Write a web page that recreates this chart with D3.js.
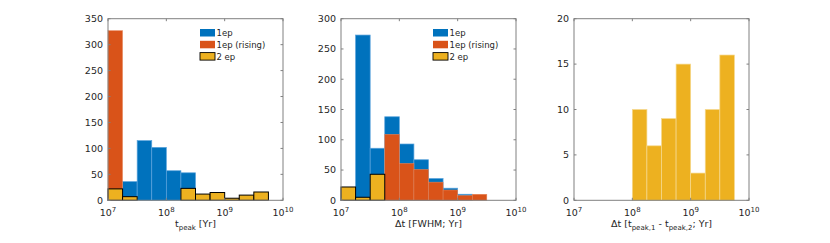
<!DOCTYPE html>
<html>
<head>
<meta charset="utf-8">
<script src="https://cdn.jsdelivr.net/npm/d3@7"></script>
<style>
body { margin: 0; background: #fff; }
text { font-family: "DejaVu Sans", sans-serif; fill: #262626; }
</style>
</head>
<body>
<svg width="830" height="243"></svg>
<script>
// log10 bin edges shared by all panels
const bin_edges = [7, 7.25, 7.5, 7.75, 8, 8.25, 8.5, 8.75, 9, 9.25, 9.5, 9.75, 10]
const x_ticks = [7, 8, 9, 10]

// panel 1: t_peak
const p1_one_ep = [0, 36, 115, 102, 57, 53, 0, 0, 0, 0, 0, 0]
const p1_rising = [327, 0, 0, 0, 0, 0, 0, 0, 0, 0, 0, 0]
const p1_two_ep = [22, 7, 0, 0, 0, 23, 12, 15, 4, 10, 16, 0]
const p1_y_ticks = [0, 50, 100, 150, 200, 250, 300, 350]

// panel 2: FWHM
const p2_one_ep = [0, 273, 86, 138, 93, 67, 36, 20, 10, 0, 0, 0]
const p2_rising = [0, 0, 0, 109, 61, 51, 30, 17, 8, 10, 0, 0]
const p2_two_ep = [22, 5, 43, 0, 0, 0, 0, 0, 0, 0, 0, 0]
const p2_y_ticks = [0, 50, 100, 150, 200, 250, 300]

// panel 3: peak separation
const p3_two_ep = [0, 0, 0, 0, 10, 6, 9, 15, 3, 10, 16, 0]
const p3_y_ticks = [0, 5, 10, 15, 20]

const legend_labels = ["1ep", "1ep (rising)", "2 ep"]

const col_blue = "#0072BD"
const col_orange = "#D95319"
const col_yellow = "#EDB120"
const axis_col = "#808080"

const plot_top = 18.7
const plot_bottom = 200.3
const plot_w = 175
const tick_len = 2.5

const svg = d3.select("svg")

function draw_panel(left, y_max, y_ticks, series, legend_x, label_parts) {
    const g = svg.append("g")
    const x = d3.scaleLinear().domain([7, 10]).range([left, left + plot_w])
    const y = d3.scaleLinear().domain([0, y_max]).range([plot_bottom, plot_top])

    series.forEach(s => {
        const bins = s.counts.map((c, i) => ({ x0: bin_edges[i], x1: bin_edges[i + 1], c: c }))
            .filter(b => b.c > 0)
        g.selectAll(null)
            .data(bins)
            .enter()
            .append("rect")
            .attr("x", b => x(b.x0))
            .attr("y", b => y(b.c))
            .attr("width", b => x(b.x1) - x(b.x0))
            .attr("height", b => y(0) - y(b.c))
            .attr("fill", s.color)
            .attr("stroke", s.edge)
            .attr("stroke-width", s.edge_w)
    })

    // box
    g.append("rect")
        .attr("x", left).attr("y", plot_top)
        .attr("width", plot_w).attr("height", plot_bottom - plot_top)
        .attr("fill", "none").attr("stroke", axis_col).attr("stroke-width", 1)

    // x ticks (bottom and top, inward)
    x_ticks.forEach(t => {
        g.append("line").attr("x1", x(t)).attr("x2", x(t))
            .attr("y1", plot_bottom).attr("y2", plot_bottom - tick_len)
            .attr("stroke", axis_col)
        g.append("line").attr("x1", x(t)).attr("x2", x(t))
            .attr("y1", plot_top).attr("y2", plot_top + tick_len)
            .attr("stroke", axis_col)
        const lab = g.append("text")
            .attr("x", x(t)).attr("y", 215.5)
            .attr("text-anchor", "middle")
            .attr("font-size", 9.5)
        lab.append("tspan").text("10")
        lab.append("tspan").attr("dy", -4).attr("font-size", 7).text(t)
    })

    // y ticks (left and right, inward)
    y_ticks.forEach(t => {
        g.append("line").attr("x1", left).attr("x2", left + tick_len)
            .attr("y1", y(t)).attr("y2", y(t)).attr("stroke", axis_col)
        g.append("line").attr("x1", left + plot_w).attr("x2", left + plot_w - tick_len)
            .attr("y1", y(t)).attr("y2", y(t)).attr("stroke", axis_col)
        g.append("text")
            .attr("x", left - 5).attr("y", y(t) + 3.3)
            .attr("text-anchor", "end")
            .attr("font-size", 9.5)
            .text(t)
    })

    // x label
    const xl = g.append("text")
        .attr("x", left + plot_w / 2).attr("y", 226.5)
        .attr("text-anchor", "middle")
        .attr("font-size", 9.5)
    label_parts.forEach(p => {
        const sp = xl.append("tspan").text(p.t)
        if (p.sub) sp.attr("font-size", 7).attr("dy", 3)
        if (p.back) sp.attr("dy", -3)
    })

    // legend
    if (legend_x !== null) {
        series.forEach((s, i) => {
            const ly = 29 + i * 11.8
            g.append("rect")
                .attr("x", legend_x).attr("y", ly)
                .attr("width", 15).attr("height", 7.5)
                .attr("fill", s.color)
                .attr("stroke", s.edge === "#000" ? "#000" : "none")
                .attr("stroke-width", 0.9)
            g.append("text")
                .attr("x", legend_x + 16.5).attr("y", ly + 7)
                .attr("font-size", 8.5)
                .text(legend_labels[i])
        })
    }
}

const blue_s = c => ({ counts: c, color: col_blue, edge: "#5aa3dc", edge_w: 0.7 })
const orange_s = c => ({ counts: c, color: col_orange, edge: "#e88a60", edge_w: 0.5 })
const yellow_s = c => ({ counts: c, color: col_yellow, edge: "#000", edge_w: 1 })

draw_panel(108, 350, p1_y_ticks,
    [blue_s(p1_one_ep), orange_s(p1_rising), yellow_s(p1_two_ep)], 200,
    [{ t: "t" }, { t: "peak", sub: true }, { t: " [Yr]", back: true }])

draw_panel(341, 300, p2_y_ticks,
    [blue_s(p2_one_ep), orange_s(p2_rising), yellow_s(p2_two_ep)], 433,
    [{ t: "\u0394t [FWHM; Yr]" }])

draw_panel(574, 20, p3_y_ticks,
    [{ counts: p3_two_ep, color: col_yellow, edge: "#f6d98f", edge_w: 0.7 }], null,
    [{ t: "\u0394t [t" }, { t: "peak,1", sub: true }, { t: " - t", back: true },
     { t: "peak,2", sub: true }, { t: "; Yr]", back: true }])
</script>
</body>
</html>
